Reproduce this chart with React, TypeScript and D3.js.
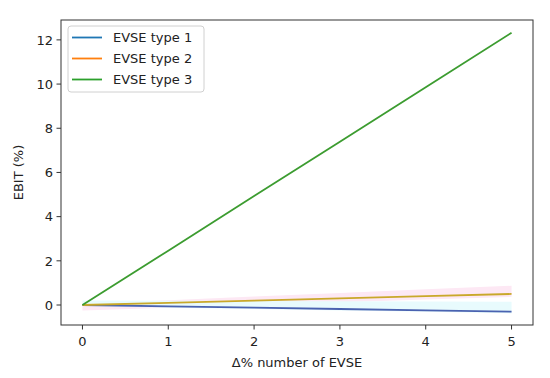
import React from 'react';
import * as d3 from 'd3';

const xValues = [0, 1, 2, 3, 4, 5];
const type1 = [0, -0.06, -0.12, -0.18, -0.24, -0.3];
const type2 = [0, 0.1, 0.2, 0.3, 0.4, 0.5];
const type3 = [0, 2.46, 4.93, 7.39, 9.86, 12.32];

// faint spread bands around type 1 / type 2
const band1Upper = [0.2, 0.19, 0.18, 0.17, 0.16, 0.15];
const band1Lower = [-0.05, -0.12, -0.18, -0.25, -0.31, -0.38];
const band2Upper = [0.05, 0.21, 0.38, 0.54, 0.71, 0.87];
const band2Lower = [-0.25, -0.12, 0.0, 0.12, 0.25, 0.37];

const xTicks = [0, 1, 2, 3, 4, 5];
const yTicks = [0, 2, 4, 6, 8, 10, 12];
const seriesNames = ['EVSE type 1', 'EVSE type 2', 'EVSE type 3'];
const legendColors = ['#1f77b4', '#ff7f0e', '#2ca02c'];
const lineColors = ['#4a62b0', '#c9a82a', '#3c9c30'];

const W = 550;
const H = 378;
const m = { left: 61, right: 17, top: 20, bottom: 53 };
const font = 'DejaVu Sans, sans-serif';

export default function App() {
  const x = d3.scaleLinear().domain([-0.25, 5.25]).range([m.left, W - m.right]);
  const y = d3.scaleLinear().domain([-0.905, 12.9]).range([H - m.bottom, m.top]);

  const line = (vals: number[]) =>
    d3.line<number>().x((_, i) => x(xValues[i])).y(d => y(d))(vals) || '';
  const area = (lo: number[], hi: number[]) =>
    d3.area<number>()
      .x((_, i) => x(xValues[i]))
      .y0((_, i) => y(lo[i]))
      .y1((_, i) => y(hi[i]))(xValues) || '';

  const series = [type1, type2, type3];
  const bottom = H - m.bottom;

  return (
    <svg width={W} height={H} style={{ position: 'absolute', left: 0, top: 0, background: '#fff' }}
      fontFamily={font}>
      <path d={area(band2Lower, band2Upper)} fill="#fde8f4" />
      <path d={area(band1Lower, band1Upper)} fill="#e8fbfd" />
      {series.map((s, i) => (
        <path key={i} d={line(s)} fill="none" stroke={lineColors[i]} strokeWidth={1.8} />
      ))}

      <rect x={m.left} y={m.top} width={W - m.left - m.right} height={bottom - m.top}
        fill="none" stroke="#333" strokeWidth={1} />

      {xTicks.map(t => (
        <g key={t} transform={`translate(${x(t)},${bottom})`}>
          <line y2={4.5} stroke="#333" />
          <text y={21} textAnchor="middle" fontSize={13} fill="#222">{t}</text>
        </g>
      ))}
      {yTicks.map(t => (
        <g key={t} transform={`translate(${m.left},${y(t)})`}>
          <line x2={-4.5} stroke="#333" />
          <text x={-8} dy="0.36em" textAnchor="end" fontSize={13} fill="#222">{t}</text>
        </g>
      ))}

      <text x={(m.left + W - m.right) / 2} y={367} textAnchor="middle" fontSize={13} fill="#222">
        Δ% number of EVSE
      </text>
      <text transform={`translate(23,${(m.top + bottom) / 2}) rotate(-90)`} textAnchor="middle"
        fontSize={13} fill="#222">EBIT (%)</text>

      <rect x={68} y={26} width={136} height={66} rx={3} fill="#fff" fillOpacity={0.8}
        stroke="#d0d0d0" strokeWidth={1} />
      {seriesNames.map((name, i) => (
        <g key={name} transform={`translate(72,${37.5 + i * 21})`}>
          <line x2={30} stroke={legendColors[i]} strokeWidth={1.8} />
          <text x={41} dy="0.36em" fontSize={13} fill="#222">{name}</text>
        </g>
      ))}
    </svg>
  );
}
